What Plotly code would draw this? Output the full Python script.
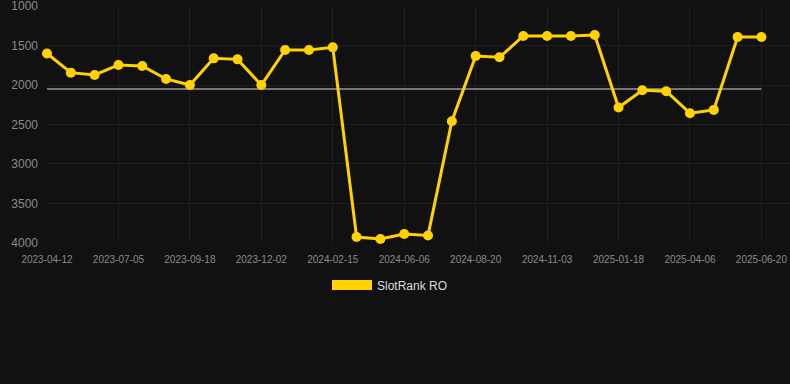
import plotly.graph_objects as go

dates = [
    "2023-04-12", "2023-05-10", "2023-06-07", "2023-07-05", "2023-07-30",
    "2023-08-24", "2023-09-18", "2023-10-13", "2023-11-07", "2023-12-02",
    "2023-12-27", "2024-01-21", "2024-02-15", "2024-03-22", "2024-04-28",
    "2024-06-06", "2024-07-01", "2024-07-26", "2024-08-20", "2024-09-14",
    "2024-10-09", "2024-11-03", "2024-11-28", "2024-12-24", "2025-01-18",
    "2025-02-12", "2025-03-09", "2025-04-06", "2025-04-30", "2025-05-26",
    "2025-06-20",
]
ranks = [
    1600, 1843, 1872, 1746, 1759, 1923, 2000, 1662, 1675, 2000,
    1556, 1556, 1523, 3925, 3950, 3888, 3905, 2459, 1632, 1649,
    1379, 1379, 1379, 1367, 2285, 2066, 2079, 2357, 2315, 1392,
    1392,
]
tick_labels = dates[::3]
y_ticks = [1000, 1500, 2000, 2500, 3000, 3500, 4000]
series_name = "SlotRank RO"

avg = sum(ranks) / len(ranks)
gold = "#ffd200"

fig = go.Figure()
fig.add_trace(go.Scatter(
    x=dates, y=ranks, mode="lines+markers", name=series_name,
    line=dict(color=gold, width=3),
    marker=dict(color=gold, size=10),
    cliponaxis=False, showlegend=False,
))
fig.add_trace(go.Scatter(
    x=[dates[0], dates[-1]], y=[avg, avg], mode="lines",
    line=dict(color="#767676", width=2), showlegend=False, hoverinfo="skip",
))
fig.add_trace(go.Scatter(
    x=[None], y=[None], mode="lines", name=series_name,
    line=dict(color=gold, width=12), showlegend=True,
))
# draw the data line above the average line
fig.data = (fig.data[1], fig.data[0], fig.data[2])

fig.update_layout(
    width=790, height=384,
    paper_bgcolor="#111111", plot_bgcolor="#111111",
    margin=dict(l=47, r=0, t=6, b=141),
    font=dict(family="Liberation Sans, Arial, sans-serif", color="#8a8a8a"),
    xaxis=dict(
        type="category", categoryorder="array", categoryarray=dates,
        range=[0, 31.2],
        tickvals=tick_labels, ticktext=tick_labels,
        tickfont=dict(size=10, color="#8a8a8a"),
        showgrid=True, gridcolor="#1e1e1e", gridwidth=1,
        zeroline=False, showline=False, ticks="",
        ticklabelstandoff=9,
    ),
    yaxis=dict(
        range=[4001, 999], tickvals=y_ticks,
        tickfont=dict(size=12, color="#8a8a8a"),
        showgrid=True, gridcolor="#1e1e1e", gridwidth=1,
        zeroline=False, showline=False, ticks="",
        ticklabelstandoff=8, ticklabeloverflow="allow",
    ),
    legend=dict(
        orientation="h", xref="container", yref="container",
        x=0.5 - 5 / 790, xanchor="center", y=1 - 285 / 384, yanchor="middle",
        font=dict(size=12, color="#dddddd"), itemwidth=40,
    ),
)

fig.write_html(
    "out.html",
    config={"displayModeBar": False},
    post_script="document.body.style.margin='0';",
)
